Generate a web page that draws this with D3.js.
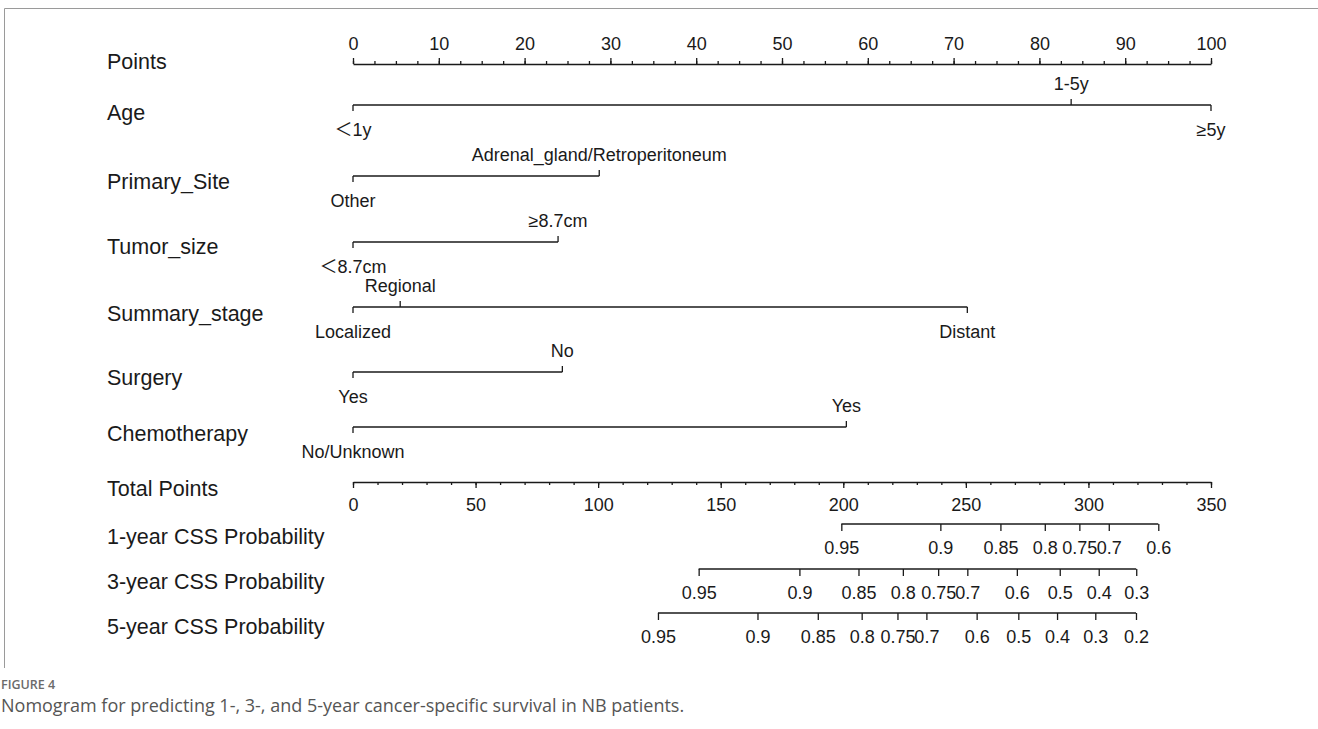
<!DOCTYPE html>
<html>
<head>
<meta charset="utf-8">
<script src="https://cdn.jsdelivr.net/npm/d3@7/dist/d3.min.js"></script>
<style>
  html, body { margin: 0; padding: 0; background: #fff; }
  svg { display: block; }
  .lbl { font-family: "Liberation Sans", Arial, "Noto Sans CJK SC", sans-serif; fill: #1a1a1a; }
</style>
</head>
<body>
<svg id="chart" width="1318" height="729"></svg>
<script>
// ---- Data -----------------------------------------------------------
const pointsMajor = d3.range(0, 101, 10);
const pointsMinor = d3.range(0, 100.1, 2.5);

const ageLevels = ["\uFF1C1y", "1-5y", "\u22655y"];
const agePoints = [0, 83.7, 100];

const siteLevels = ["Other", "Adrenal_gland/Retroperitoneum"];
const sitePoints = [0, 28.7];

const sizeLevels = ["\uFF1C8.7cm", "\u22658.7cm"];
const sizePoints = [0, 23.9];

const stageLevels = ["Localized", "Regional", "Distant"];
const stagePoints = [0, 5.5, 71.6];

const surgeryLevels = ["Yes", "No"];
const surgeryPoints = [0, 24.4];

const chemoLevels = ["No/Unknown", "Yes"];
const chemoPoints = [0, 57.5];

const totalMajor = d3.range(0, 351, 50);
const totalMinor = d3.range(0, 351, 10);

const surv1Labels = ["0.95", "0.9", "0.85", "0.8", "0.75", "0.7", "0.6"];
const surv1Total  = [199.2, 239.6, 264.1, 282.2, 296.3, 308.3, 328.5];

const surv3Labels = ["0.95", "0.9", "0.85", "0.8", "0.75", "0.7", "0.6", "0.5", "0.4", "0.3"];
const surv3Total  = [141.0, 182.1, 206.2, 224.3, 238.7, 250.6, 270.8, 288.3, 304.2, 319.5];

const surv5Labels = ["0.95", "0.9", "0.85", "0.8", "0.75", "0.7", "0.6", "0.5", "0.4", "0.3", "0.2"];
const surv5Total  = [124.4, 165.0, 189.6, 207.5, 222.1, 233.9, 254.4, 271.4, 287.2, 302.8, 319.4];

// ---- Layout ---------------------------------------------------------
const svg = d3.select("#chart");
const x0 = 353, x1 = 1211;
const pointsScale = d3.scaleLinear().domain([0, 100]).range([x0, x1]);
const totalScale  = d3.scaleLinear().domain([0, 350]).range([x0, x1]);

const labelX = 107;
const varFont = 21.5, tickFont = 18;
const ink = "#1a1a1a", lw = 1.3;
const fam = "'Liberation Sans', Arial, 'Noto Sans CJK SC', sans-serif";

// page frame
svg.append("path")
  .attr("d", "M4.5,668 V8.5 H1318")
  .attr("fill", "none").attr("stroke", "#9a9a9a").attr("stroke-width", 1);

function rowLabel(text, y) {
  svg.append("text").attr("class", "lbl")
    .attr("x", labelX).attr("y", y)
    .attr("dominant-baseline", "central")
    .style("font-family", fam)
    .style("font-size", varFont + "px")
    .text(text);
}

function styleAxis(g) {
  g.attr("font-family", null).attr("font-size", null);
  g.selectAll("path, line").attr("stroke", ink).attr("stroke-width", lw);
  g.selectAll("text").attr("class", "lbl")
    .style("font-family", fam)
    .style("font-size", tickFont + "px").attr("fill", ink);
}

// ---- Points axis ----------------------------------------------------
rowLabel("Points", 62);
{
  const g = svg.append("g").attr("transform", "translate(0,64)");
  g.append("g").call(d3.axisTop(pointsScale).tickValues(pointsMinor).tickSize(3).tickSizeOuter(0).tickFormat(""));
  const gm = g.append("g").call(d3.axisTop(pointsScale).tickValues(pointsMajor).tickSize(6).tickSizeOuter(0));
  gm.select(".domain").remove();
  gm.selectAll("text").attr("y", -20).attr("dy", null).attr("dominant-baseline", "central");
  styleAxis(g);
}

// ---- Predictor rows -------------------------------------------------
function predictor(name, levels, pts, lineY, labelY) {
  rowLabel(name, labelY);
  const g = svg.append("g").attr("transform", `translate(0,${lineY})`);
  const ext = d3.extent(pts);
  g.append("line")
    .attr("x1", pointsScale(ext[0])).attr("x2", pointsScale(ext[1]))
    .attr("y1", 0).attr("y2", 0)
    .attr("stroke", ink).attr("stroke-width", lw);
  const items = levels.map((l, i) => ({ label: l, p: pts[i], up: i % 2 === 1 }));
  g.selectAll("line.tk").data(items).join("line").attr("class", "tk")
    .attr("x1", d => pointsScale(d.p)).attr("x2", d => pointsScale(d.p))
    .attr("y1", 0).attr("y2", d => d.up ? -6 : 6)
    .attr("stroke", ink).attr("stroke-width", lw);
  g.selectAll("text").data(items).join("text").attr("class", "lbl")
    .attr("x", d => pointsScale(d.p))
    .attr("y", d => d.up ? -21 : 25)
    .attr("text-anchor", "middle")
    .attr("dominant-baseline", "central")
    .style("font-family", fam)
    .style("font-size", tickFont + "px")
    .text(d => d.label);
}

predictor("Age", ageLevels, agePoints, 105, 113);
predictor("Primary_Site", siteLevels, sitePoints, 176, 182);
predictor("Tumor_size", sizeLevels, sizePoints, 242, 247);
predictor("Summary_stage", stageLevels, stagePoints, 307, 314);
predictor("Surgery", surgeryLevels, surgeryPoints, 372, 378);
predictor("Chemotherapy", chemoLevels, chemoPoints, 427, 434);

// ---- Total points axis ----------------------------------------------
rowLabel("Total Points", 489);
{
  const g = svg.append("g").attr("transform", "translate(0,482)");
  g.append("g").call(d3.axisBottom(totalScale).tickValues(totalMinor).tickSize(3).tickSizeOuter(0).tickFormat(""));
  const gm = g.append("g").call(d3.axisBottom(totalScale).tickValues(totalMajor).tickSize(6).tickSizeOuter(0));
  gm.select(".domain").remove();
  gm.selectAll("text").attr("y", 23).attr("dy", null).attr("dominant-baseline", "central");
  styleAxis(g);
}

// ---- Survival probability axes --------------------------------------
function survAxis(name, labels, totals, lineY, labelY) {
  rowLabel(name, labelY);
  const g = svg.append("g").attr("transform", `translate(0,${lineY})`);
  g.call(d3.axisBottom(totalScale).tickValues(totals).tickSize(7).tickSizeOuter(0)
    .tickFormat((d, i) => labels[i]));
  g.select(".domain").attr("d", `M${totalScale(d3.min(totals))},0H${totalScale(d3.max(totals))}`);
  g.selectAll("text").attr("y", 24).attr("dy", null).attr("dominant-baseline", "central");
  styleAxis(g);
}

survAxis("1-year CSS Probability", surv1Labels, surv1Total, 524, 537);
survAxis("3-year CSS Probability", surv3Labels, surv3Total, 569, 582);
survAxis("5-year CSS Probability", surv5Labels, surv5Total, 613, 627);

// ---- Caption --------------------------------------------------------
svg.append("text")
  .attr("x", 1).attr("y", 689)
  .style("font-family", "'Open Sans', 'Noto Sans', sans-serif")
  .style("font-size", "12.5px").style("font-weight", 600)
  .attr("fill", "#6b6b6b")
  .text("FIGURE 4");
svg.append("text")
  .attr("x", 1).attr("y", 712)
  .style("font-family", "'Open Sans', 'Noto Sans', sans-serif")
  .style("font-size", "18px")
  .attr("fill", "#555")
  .text("Nomogram for predicting 1-, 3-, and 5-year cancer-specific survival in NB patients.");
</script>
</body>
</html>
